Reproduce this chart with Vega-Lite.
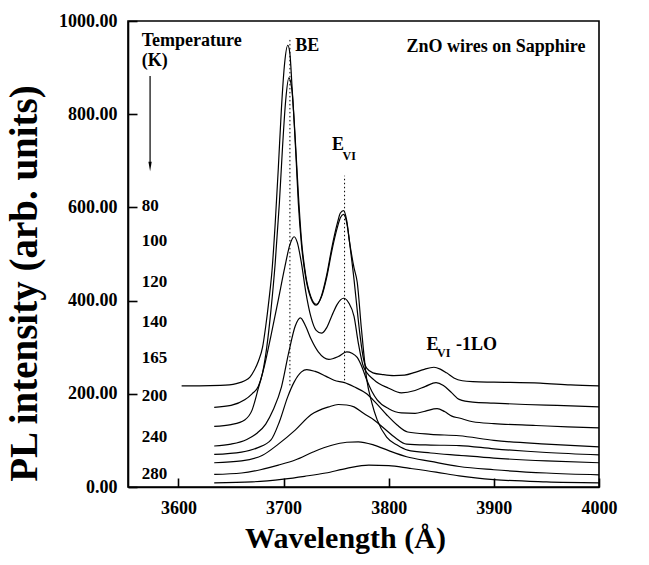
{
  "$schema": "https://vega.github.io/schema/vega-lite/v6.json",
  "width": 471,
  "height": 466,
  "autosize": {"type": "none"},
  "padding": {"left": 128, "top": 21, "right": 50, "bottom": 78},
  "background": "white",
  "config": {
    "view": {"stroke": "black", "strokeWidth": 1.6},
    "font": "Liberation Serif",
    "text": {"font": "Liberation Serif", "fontWeight": "bold", "color": "black"}
  },
  "datasets": {
    "spectra": [
      {"s": "80", "w": 3603, "v": 217}, {"s": "80", "w": 3620, "v": 217}, {"s": "80", "w": 3640, "v": 218}, {"s": "80", "w": 3655, "v": 222}, {"s": "80", "w": 3663, "v": 228}, {"s": "80", "w": 3668, "v": 236}, {"s": "80", "w": 3672, "v": 250}, {"s": "80", "w": 3676, "v": 270}, {"s": "80", "w": 3680, "v": 300}, {"s": "80", "w": 3683, "v": 345}, {"s": "80", "w": 3686, "v": 400}, {"s": "80", "w": 3689, "v": 465}, {"s": "80", "w": 3692, "v": 565}, {"s": "80", "w": 3695, "v": 685}, {"s": "80", "w": 3698, "v": 815}, {"s": "80", "w": 3701, "v": 910}, {"s": "80", "w": 3704, "v": 948}, {"s": "80", "w": 3706, "v": 930}, {"s": "80", "w": 3708, "v": 860}, {"s": "80", "w": 3710, "v": 785}, {"s": "80", "w": 3712, "v": 700}, {"s": "80", "w": 3714, "v": 610}, {"s": "80", "w": 3717, "v": 520}, {"s": "80", "w": 3721, "v": 450}, {"s": "80", "w": 3726, "v": 405}, {"s": "80", "w": 3731, "v": 390}, {"s": "80", "w": 3736, "v": 410}, {"s": "80", "w": 3741, "v": 455}, {"s": "80", "w": 3746, "v": 515}, {"s": "80", "w": 3751, "v": 565}, {"s": "80", "w": 3754, "v": 588}, {"s": "80", "w": 3757, "v": 593}, {"s": "80", "w": 3760, "v": 572}, {"s": "80", "w": 3763, "v": 520}, {"s": "80", "w": 3767, "v": 445}, {"s": "80", "w": 3770, "v": 380}, {"s": "80", "w": 3773, "v": 320}, {"s": "80", "w": 3776, "v": 275}, {"s": "80", "w": 3779, "v": 255}, {"s": "80", "w": 3785, "v": 245}, {"s": "80", "w": 3795, "v": 241}, {"s": "80", "w": 3805, "v": 239}, {"s": "80", "w": 3815, "v": 240}, {"s": "80", "w": 3825, "v": 246}, {"s": "80", "w": 3833, "v": 252}, {"s": "80", "w": 3843, "v": 257}, {"s": "80", "w": 3849, "v": 253}, {"s": "80", "w": 3855, "v": 245}, {"s": "80", "w": 3862, "v": 234}, {"s": "80", "w": 3870, "v": 228}, {"s": "80", "w": 3880, "v": 226}, {"s": "80", "w": 3900, "v": 225}, {"s": "80", "w": 3944, "v": 223}, {"s": "80", "w": 3973, "v": 219}, {"s": "80", "w": 4000, "v": 217},

      {"s": "100", "w": 3634, "v": 171}, {"s": "100", "w": 3650, "v": 175}, {"s": "100", "w": 3663, "v": 187}, {"s": "100", "w": 3670, "v": 200}, {"s": "100", "w": 3676, "v": 216}, {"s": "100", "w": 3680, "v": 245}, {"s": "100", "w": 3684, "v": 300}, {"s": "100", "w": 3688, "v": 380}, {"s": "100", "w": 3692, "v": 480}, {"s": "100", "w": 3696, "v": 610}, {"s": "100", "w": 3699, "v": 730}, {"s": "100", "w": 3702, "v": 830}, {"s": "100", "w": 3705, "v": 878}, {"s": "100", "w": 3708, "v": 850}, {"s": "100", "w": 3711, "v": 750}, {"s": "100", "w": 3714, "v": 630}, {"s": "100", "w": 3717, "v": 530}, {"s": "100", "w": 3721, "v": 455}, {"s": "100", "w": 3726, "v": 408}, {"s": "100", "w": 3731, "v": 392}, {"s": "100", "w": 3736, "v": 408}, {"s": "100", "w": 3741, "v": 450}, {"s": "100", "w": 3746, "v": 508}, {"s": "100", "w": 3751, "v": 556}, {"s": "100", "w": 3754, "v": 578}, {"s": "100", "w": 3757, "v": 585}, {"s": "100", "w": 3760, "v": 568}, {"s": "100", "w": 3763, "v": 522}, {"s": "100", "w": 3767, "v": 470}, {"s": "100", "w": 3770, "v": 440}, {"s": "100", "w": 3774, "v": 340}, {"s": "100", "w": 3779, "v": 232}, {"s": "100", "w": 3784, "v": 180}, {"s": "100", "w": 3789, "v": 144}, {"s": "100", "w": 3798, "v": 107}, {"s": "100", "w": 3808, "v": 90}, {"s": "100", "w": 3818, "v": 79}, {"s": "100", "w": 3840, "v": 73}, {"s": "100", "w": 3867, "v": 68}, {"s": "100", "w": 3900, "v": 62}, {"s": "100", "w": 3950, "v": 56}, {"s": "100", "w": 4000, "v": 52},

      {"s": "120", "w": 3634, "v": 130}, {"s": "120", "w": 3650, "v": 134}, {"s": "120", "w": 3663, "v": 144}, {"s": "120", "w": 3670, "v": 165}, {"s": "120", "w": 3676, "v": 212}, {"s": "120", "w": 3682, "v": 262}, {"s": "120", "w": 3688, "v": 325}, {"s": "120", "w": 3695, "v": 402}, {"s": "120", "w": 3701, "v": 470}, {"s": "120", "w": 3706, "v": 520}, {"s": "120", "w": 3710, "v": 537}, {"s": "120", "w": 3713, "v": 525}, {"s": "120", "w": 3717, "v": 480}, {"s": "120", "w": 3721, "v": 420}, {"s": "120", "w": 3726, "v": 365}, {"s": "120", "w": 3731, "v": 336}, {"s": "120", "w": 3736, "v": 330}, {"s": "120", "w": 3741, "v": 342}, {"s": "120", "w": 3746, "v": 368}, {"s": "120", "w": 3751, "v": 392}, {"s": "120", "w": 3757, "v": 405}, {"s": "120", "w": 3762, "v": 395}, {"s": "120", "w": 3767, "v": 366}, {"s": "120", "w": 3771, "v": 310}, {"s": "120", "w": 3776, "v": 258}, {"s": "120", "w": 3786, "v": 230}, {"s": "120", "w": 3800, "v": 212}, {"s": "120", "w": 3812, "v": 202}, {"s": "120", "w": 3825, "v": 207}, {"s": "120", "w": 3835, "v": 216}, {"s": "120", "w": 3845, "v": 224}, {"s": "120", "w": 3852, "v": 218}, {"s": "120", "w": 3860, "v": 202}, {"s": "120", "w": 3867, "v": 188}, {"s": "120", "w": 3880, "v": 182}, {"s": "120", "w": 3900, "v": 180}, {"s": "120", "w": 3930, "v": 177}, {"s": "120", "w": 3960, "v": 175}, {"s": "120", "w": 4000, "v": 172},

      {"s": "140", "w": 3634, "v": 88}, {"s": "140", "w": 3650, "v": 92}, {"s": "140", "w": 3665, "v": 102}, {"s": "140", "w": 3675, "v": 116}, {"s": "140", "w": 3683, "v": 135}, {"s": "140", "w": 3690, "v": 165}, {"s": "140", "w": 3698, "v": 215}, {"s": "140", "w": 3705, "v": 290}, {"s": "140", "w": 3711, "v": 345}, {"s": "140", "w": 3716, "v": 363}, {"s": "140", "w": 3721, "v": 345}, {"s": "140", "w": 3726, "v": 318}, {"s": "140", "w": 3733, "v": 290}, {"s": "140", "w": 3743, "v": 274}, {"s": "140", "w": 3752, "v": 280}, {"s": "140", "w": 3760, "v": 290}, {"s": "140", "w": 3765, "v": 287}, {"s": "140", "w": 3770, "v": 278}, {"s": "140", "w": 3775, "v": 255}, {"s": "140", "w": 3779, "v": 230}, {"s": "140", "w": 3784, "v": 205}, {"s": "140", "w": 3789, "v": 187}, {"s": "140", "w": 3800, "v": 168}, {"s": "140", "w": 3812, "v": 159}, {"s": "140", "w": 3825, "v": 158}, {"s": "140", "w": 3835, "v": 163}, {"s": "140", "w": 3846, "v": 168}, {"s": "140", "w": 3853, "v": 162}, {"s": "140", "w": 3860, "v": 152}, {"s": "140", "w": 3867, "v": 148}, {"s": "140", "w": 3880, "v": 140}, {"s": "140", "w": 3900, "v": 136}, {"s": "140", "w": 3940, "v": 132}, {"s": "140", "w": 3970, "v": 129}, {"s": "140", "w": 4000, "v": 127},

      {"s": "165", "w": 3634, "v": 70}, {"s": "165", "w": 3660, "v": 75}, {"s": "165", "w": 3675, "v": 84}, {"s": "165", "w": 3688, "v": 101}, {"s": "165", "w": 3696, "v": 140}, {"s": "165", "w": 3704, "v": 194}, {"s": "165", "w": 3710, "v": 225}, {"s": "165", "w": 3717, "v": 247}, {"s": "165", "w": 3722, "v": 252}, {"s": "165", "w": 3730, "v": 248}, {"s": "165", "w": 3740, "v": 238}, {"s": "165", "w": 3748, "v": 229}, {"s": "165", "w": 3758, "v": 224}, {"s": "165", "w": 3767, "v": 215}, {"s": "165", "w": 3779, "v": 200}, {"s": "165", "w": 3788, "v": 180}, {"s": "165", "w": 3798, "v": 155}, {"s": "165", "w": 3808, "v": 133}, {"s": "165", "w": 3818, "v": 118}, {"s": "165", "w": 3840, "v": 113}, {"s": "165", "w": 3867, "v": 110}, {"s": "165", "w": 3900, "v": 100}, {"s": "165", "w": 3950, "v": 92}, {"s": "165", "w": 4000, "v": 86},

      {"s": "200", "w": 3634, "v": 52}, {"s": "200", "w": 3660, "v": 56}, {"s": "200", "w": 3680, "v": 68}, {"s": "200", "w": 3695, "v": 92}, {"s": "200", "w": 3711, "v": 122}, {"s": "200", "w": 3726, "v": 155}, {"s": "200", "w": 3743, "v": 172}, {"s": "200", "w": 3752, "v": 177}, {"s": "200", "w": 3760, "v": 176}, {"s": "200", "w": 3767, "v": 172}, {"s": "200", "w": 3776, "v": 158}, {"s": "200", "w": 3786, "v": 144}, {"s": "200", "w": 3796, "v": 125}, {"s": "200", "w": 3806, "v": 106}, {"s": "200", "w": 3817, "v": 92}, {"s": "200", "w": 3840, "v": 90}, {"s": "200", "w": 3867, "v": 89}, {"s": "200", "w": 3900, "v": 82}, {"s": "200", "w": 3950, "v": 74}, {"s": "200", "w": 4000, "v": 69},

      {"s": "240", "w": 3634, "v": 27}, {"s": "240", "w": 3660, "v": 30}, {"s": "240", "w": 3678, "v": 37}, {"s": "240", "w": 3695, "v": 47}, {"s": "240", "w": 3711, "v": 58}, {"s": "240", "w": 3728, "v": 75}, {"s": "240", "w": 3745, "v": 89}, {"s": "240", "w": 3760, "v": 96}, {"s": "240", "w": 3771, "v": 97}, {"s": "240", "w": 3786, "v": 90}, {"s": "240", "w": 3800, "v": 78}, {"s": "240", "w": 3817, "v": 65}, {"s": "240", "w": 3840, "v": 55}, {"s": "240", "w": 3867, "v": 44}, {"s": "240", "w": 3900, "v": 37}, {"s": "240", "w": 3950, "v": 30}, {"s": "240", "w": 4000, "v": 26},

      {"s": "280", "w": 3634, "v": 9}, {"s": "280", "w": 3670, "v": 11}, {"s": "280", "w": 3700, "v": 17}, {"s": "280", "w": 3720, "v": 23}, {"s": "280", "w": 3740, "v": 30}, {"s": "280", "w": 3760, "v": 40}, {"s": "280", "w": 3781, "v": 47}, {"s": "280", "w": 3800, "v": 46}, {"s": "280", "w": 3820, "v": 40}, {"s": "280", "w": 3845, "v": 32}, {"s": "280", "w": 3867, "v": 24}, {"s": "280", "w": 3900, "v": 16}, {"s": "280", "w": 3950, "v": 11}, {"s": "280", "w": 4000, "v": 9}
    ],
    "markers": [
      {"w": 3706, "v1": 218, "v2": 962},
      {"w": 3758, "v1": 229, "v2": 668}
    ],
    "notes": [
      {"w": 3565, "v": 957, "t": "Temperature"},
      {"w": 3565, "v": 914, "t": "(K)"},
      {"w": 3711, "v": 946, "t": "BE"},
      {"w": 3746, "v": 733, "t": "E"},
      {"w": 3836, "v": 305, "t": "E"},
      {"w": 3864, "v": 304, "t": "-1LO"},
      {"w": 3817, "v": 944, "t": "ZnO wires on Sapphire"}
    ],
    "subs": [
      {"w": 3756, "v": 711, "t": "VI"},
      {"w": 3846, "v": 287, "t": "VI"}
    ],
    "temps": [
      {"w": 3565, "v": 602, "t": "80"},
      {"w": 3565, "v": 527, "t": "100"},
      {"w": 3565, "v": 439, "t": "120"},
      {"w": 3565, "v": 355, "t": "140"},
      {"w": 3565, "v": 277, "t": "165"},
      {"w": 3565, "v": 196, "t": "200"},
      {"w": 3565, "v": 108, "t": "240"},
      {"w": 3565, "v": 28, "t": "280"}
    ],
    "arrow": [
      {"w": 3573, "v1": 882, "v2": 690}
    ],
    "arrowhead": [
      {"w": 3573, "v": 688}
    ]
  },
  "encoding": {
    "x": {
      "field": "w", "type": "quantitative",
      "scale": {"domain": [3552, 4000], "nice": false, "zero": false},
      "axis": {
        "orient": "bottom",
        "values": [3600, 3700, 3800, 3900, 4000],
        "format": "d",
        "tickSize": -9,
        "tickColor": "black", "tickWidth": 1.6,
        "domainColor": "black", "domainWidth": 1.6,
        "labelFont": "Liberation Serif", "labelFontWeight": "bold", "labelFontSize": 18, "labelColor": "black",
        "labelPadding": 21, "labelFlush": false,
        "grid": false,
        "title": "Wavelength (Å)",
        "titleFont": "Liberation Serif", "titleFontWeight": "bold", "titleFontSize": 30, "titleColor": "black",
        "titlePadding": 6,
        "titleX": 217
      }
    },
    "y": {
      "field": "v", "type": "quantitative",
      "scale": {"domain": [0, 1000], "nice": false, "zero": true},
      "axis": {
        "orient": "left",
        "values": [0, 200, 400, 600, 800, 1000],
        "format": ".2f",
        "tickSize": -9,
        "tickColor": "black", "tickWidth": 1.6,
        "domainColor": "black", "domainWidth": 1.6,
        "labelFont": "Liberation Serif", "labelFontWeight": "bold", "labelFontSize": 18, "labelColor": "black",
        "labelPadding": 20, "labelFlush": false,
        "grid": false,
        "title": "PL intensity (arb. units)",
        "titleFont": "Liberation Serif", "titleFontWeight": "bold", "titleFontSize": 39, "titleColor": "black",
        "titlePadding": 14,
        "titleY": 262
      }
    }
  },
  "layer": [
    {
      "data": {"name": "spectra"},
      "mark": {"type": "line", "color": "black", "strokeWidth": 1.2, "interpolate": "monotone"},
      "encoding": {
        "detail": {"field": "s", "type": "nominal"}
      }
    },
    {
      "data": {"name": "markers"},
      "mark": {"type": "rule", "color": "black", "strokeWidth": 1, "strokeDash": [1.5, 2.5]},
      "encoding": {
        "y": {"field": "v1", "type": "quantitative"},
        "y2": {"field": "v2"}
      }
    },
    {
      "data": {"name": "arrow"},
      "mark": {"type": "rule", "color": "black", "strokeWidth": 1.2},
      "encoding": {
        "y": {"field": "v1", "type": "quantitative"},
        "y2": {"field": "v2"}
      }
    },
    {
      "data": {"name": "arrowhead"},
      "mark": {"type": "point", "shape": "M-0.35,-1L0.35,-1L0,1Z", "filled": true, "color": "black", "opacity": 1, "size": 90},
      "encoding": {}
    },
    {
      "data": {"name": "notes"},
      "mark": {"type": "text", "align": "left", "baseline": "middle", "fontSize": 18, "fontWeight": "bold", "font": "Liberation Serif", "color": "black"},
      "encoding": {"text": {"field": "t"}}
    },
    {
      "data": {"name": "subs"},
      "mark": {"type": "text", "align": "left", "baseline": "middle", "fontSize": 12, "fontWeight": "bold", "font": "Liberation Serif", "color": "black"},
      "encoding": {"text": {"field": "t"}}
    },
    {
      "data": {"name": "temps"},
      "mark": {"type": "text", "align": "left", "baseline": "middle", "fontSize": 17, "fontWeight": "bold", "font": "Liberation Serif", "color": "black"},
      "encoding": {"text": {"field": "t"}}
    }
  ]
}
